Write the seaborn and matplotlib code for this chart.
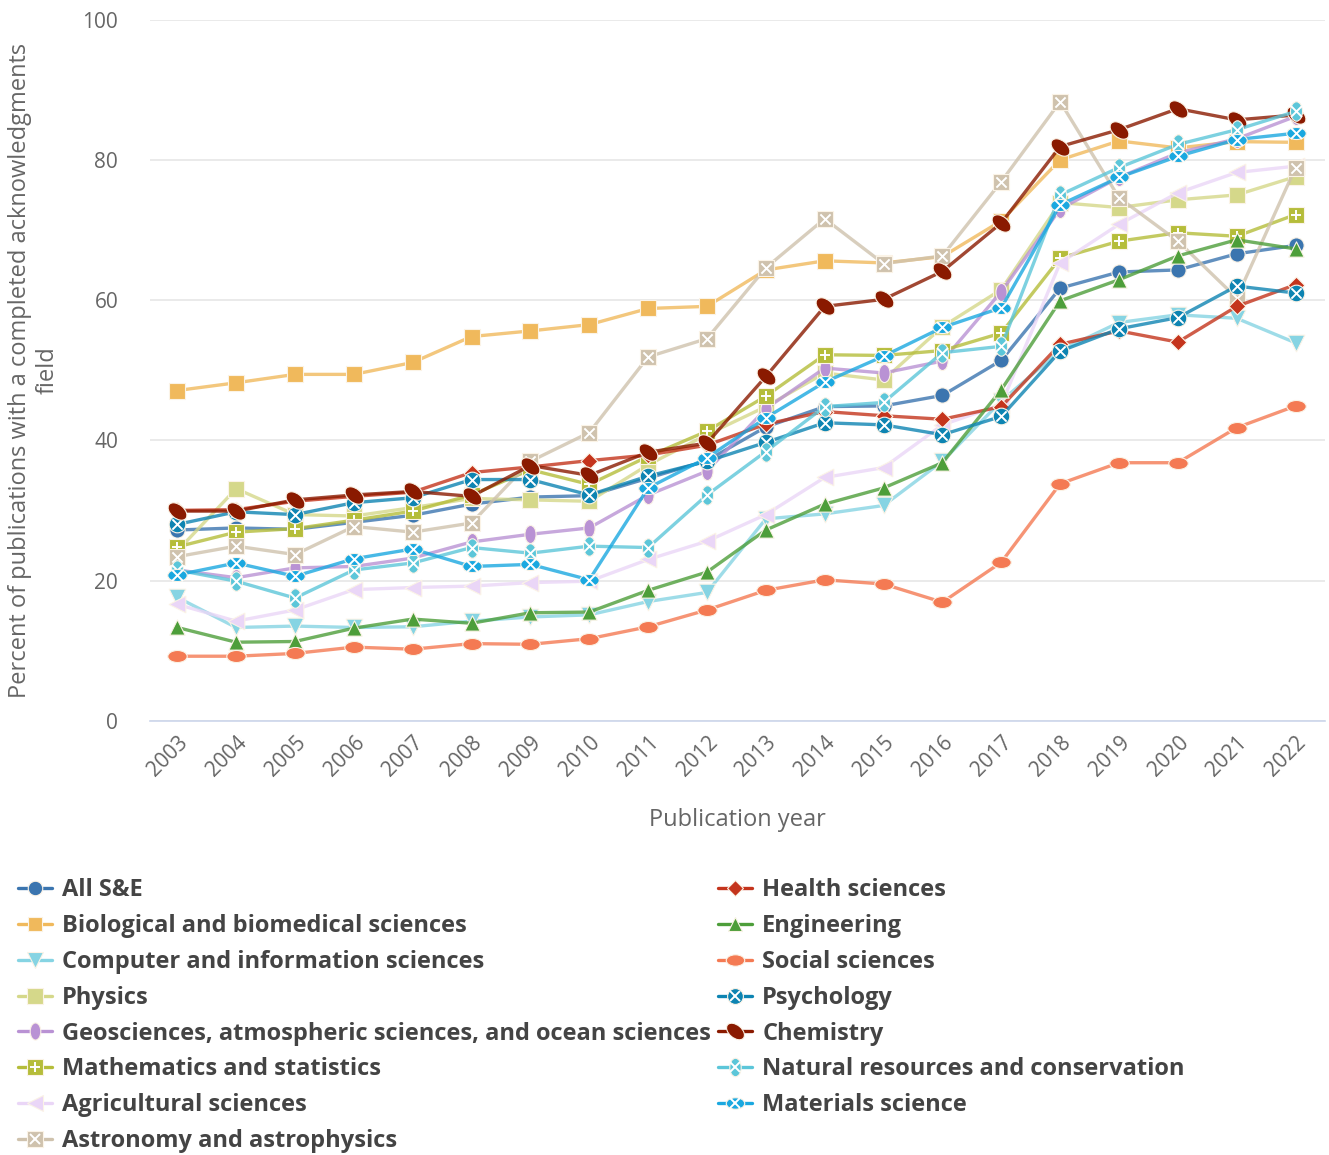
import numpy as np
import pandas as pd
import matplotlib
matplotlib.use("Agg")
import matplotlib.pyplot as plt
from matplotlib.path import Path
from matplotlib.lines import Line2D
import seaborn as sns

# data (percent of publications)
years = list(range(2003, 2023))

all_se = [27.2, 27.5, 27.3, 28.3, 29.3, 30.9, 31.9, 32.1, 34.6, 37.1,
          41.9, 44.8, 44.9, 46.4, 51.4, 61.7, 64.0, 64.3, 66.6, 67.8]
biological = [47.1, 48.2, 49.4, 49.4, 51.1, 54.8, 55.6, 56.5, 58.8, 59.1,
              64.3, 65.6, 65.3, 66.2, 71.3, 80.0, 82.7, 81.7, 82.6, 82.5]
computer = [17.6, 13.3, 13.5, 13.3, 13.4, 14.2, 14.8, 15.1, 17.0, 18.3,
            28.8, 29.5, 30.7, 37.0, 45.6, 52.8, 56.8, 57.9, 57.4, 53.9]
physics = [24.2, 33.1, 29.4, 29.2, 30.4, 31.7, 31.5, 31.3, 36.5, 40.8,
           44.8, 49.6, 48.6, 56.2, 61.5, 73.9, 73.2, 74.3, 75.0, 77.6]
geosciences = [21.5, 20.4, 21.8, 22.0, 23.2, 25.5, 26.6, 27.5, 32.2, 35.6,
               44.5, 50.3, 49.6, 51.3, 61.2, 73.0, 77.5, 81.0, 83.0, 86.2]
math_stats = [24.8, 26.9, 27.4, 28.6, 29.9, 32.2, 35.8, 33.7, 37.7, 41.3,
              46.3, 52.2, 52.1, 52.8, 55.3, 66.0, 68.4, 69.6, 69.1, 72.2]
agricultural = [16.6, 14.2, 15.8, 18.7, 19.0, 19.2, 19.7, 19.9, 23.0, 25.6,
                29.4, 34.7, 36.1, 42.2, 45.1, 65.3, 70.8, 75.3, 78.2, 79.1]
astronomy = [23.4, 24.9, 23.7, 27.7, 26.9, 28.2, 37.0, 41.1, 51.9, 54.5,
             64.6, 71.6, 65.2, 66.3, 76.9, 88.3, 74.6, 68.4, 60.3, 78.9]
health = [30.0, 30.1, 31.3, 32.0, 32.6, 35.4, 36.2, 37.1, 37.9, 39.3,
          42.3, 44.1, 43.5, 43.0, 44.8, 53.7, 55.6, 54.0, 59.1, 62.2]
engineering = [13.3, 11.2, 11.3, 13.2, 14.5, 13.9, 15.4, 15.5, 18.6, 21.2,
               27.2, 30.9, 33.2, 36.8, 47.2, 59.9, 62.9, 66.3, 68.6, 67.3]
social = [9.2, 9.2, 9.6, 10.5, 10.2, 11.0, 10.9, 11.7, 13.4, 15.8,
          18.6, 20.1, 19.5, 16.9, 22.6, 33.8, 36.8, 36.8, 41.8, 44.9]
psychology = [28.0, 29.8, 29.4, 31.1, 31.8, 34.4, 34.4, 32.2, 34.9, 37.0,
              39.7, 42.5, 42.2, 40.8, 43.4, 52.7, 55.9, 57.5, 62.0, 61.0]
chemistry = [29.9, 29.9, 31.5, 32.2, 32.7, 32.0, 36.4, 35.0, 38.3, 39.6,
             49.1, 59.1, 60.1, 64.1, 71.0, 81.9, 84.3, 87.3, 85.7, 86.4]
natural_res = [21.5, 19.9, 17.5, 21.5, 22.5, 24.7, 23.9, 24.9, 24.7, 32.2,
               38.4, 44.8, 45.4, 52.5, 53.4, 75.0, 78.9, 82.2, 84.3, 86.9]
materials = [20.8, 22.5, 20.6, 23.1, 24.5, 22.0, 22.3, 20.1, 33.2, 37.5,
             43.2, 48.3, 52.0, 56.1, 58.9, 73.6, 77.5, 80.5, 82.9, 83.8]

fields = ["All S&E", "Biological and biomedical sciences",
          "Computer and information sciences", "Physics",
          "Geosciences, atmospheric sciences, and ocean sciences",
          "Mathematics and statistics", "Agricultural sciences",
          "Astronomy and astrophysics", "Health sciences", "Engineering",
          "Social sciences", "Psychology", "Chemistry",
          "Natural resources and conservation", "Materials science"]
series = [all_se, biological, computer, physics, geosciences, math_stats,
          agricultural, astronomy, health, engineering, social, psychology,
          chemistry, natural_res, materials]

colors = ["#3b75af", "#f0b95c", "#86d4e3", "#d5d88a", "#b992d4", "#b5bd3a",
          "#ead6f7", "#cfc2ad", "#c4341c", "#4d9e3a", "#f47a53", "#0d84b2",
          "#8a1a00", "#5cc6d9", "#1aa8e0"]


def ellipse(sx, sy, angle=0):
    c = Path.unit_circle()
    v = c.vertices * [sx, sy]
    a = np.deg2rad(angle)
    rot = np.array([[np.cos(a), -np.sin(a)], [np.sin(a), np.cos(a)]])
    return Path(v @ rot.T, c.codes)


tall = ellipse(0.62, 1.0)
wide = ellipse(1.0, 0.62)
tilted = ellipse(1.0, 0.62, -40)

markers = ["o", "s", "v", "s", tall, "s", "<", "s", "D", "^", wide, "o",
           tilted, tall, wide]
sizes = [11, 11, 12, 12, 13, 12, 12, 12, 8.5, 11, 14, 12, 14, 14, 14]
overlay = {"Mathematics and statistics": "+",
           "Astronomy and astrophysics": "x",
           "Psychology": "x",
           "Natural resources and conservation": "x",
           "Materials science": "x"}

df = pd.DataFrame({
    "year": np.tile(years, len(fields)),
    "field": np.repeat(fields, len(years)),
    "pct": np.concatenate(series),
})

sns.set_theme(style="white")
plt.rcParams["font.family"] = ["Open Sans", "DejaVu Sans"]

fig = plt.figure(figsize=(13.29, 11.55), dpi=100)
ax = fig.add_axes([0.113, 0.376, 0.884, 0.607])

edge = "#fbf3e6"
handles = []
for i, f in enumerate(fields):
    sub = df[df["field"] == f]
    # line a bit lighter than the markers
    sns.lineplot(data=sub, x="year", y="pct", ax=ax, color=colors[i],
                 lw=2.4, alpha=0.8, zorder=3 + i)
    sns.scatterplot(data=sub, x="year", y="pct", ax=ax, color=colors[i],
                    marker=markers[i], s=sizes[i] ** 2, edgecolor=edge,
                    linewidth=0.8, zorder=3.3 + i, legend=False)
    h = Line2D([], [], color=colors[i], marker=markers[i],
               markersize=sizes[i] * 0.95, lw=2.4, mec=edge, mew=0.8)
    if f in overlay:
        sns.scatterplot(data=sub, x="year", y="pct", ax=ax,
                        marker=overlay[f], color="white", s=sizes[i] * 4.5,
                        linewidth=1.4, zorder=3.6 + i, legend=False)
        h2 = Line2D([], [], color="white", marker=overlay[f], lw=0,
                    markersize=sizes[i] * 0.55, mew=1.4)
        handles.append((h, h2))
    else:
        handles.append(h)

ax.set_xlim(2002.54, 2022.5)
ax.set_ylim(0, 100)
ax.set_yticks(range(0, 101, 20))
ax.set_xticks(years)
ax.set_xticklabels([str(y) for y in years], rotation=45, ha="right",
                   rotation_mode="anchor")
ax.grid(axis="y", color="#e6e6e6", lw=1.2)
ax.set_axisbelow(True)
for s in ["top", "right", "left"]:
    ax.spines[s].set_visible(False)
ax.spines["bottom"].set_color("#ccd6eb")
ax.spines["bottom"].set_linewidth(1.2)
ax.tick_params(axis="both", colors="#666666", labelsize=15, length=0)
ax.tick_params(axis="y", pad=23)
ax.tick_params(axis="x", pad=8)

ax.set_xlabel("Publication year", fontsize=17, color="#666666", labelpad=20)
ax.set_ylabel("Percent of publications with a completed acknowledgments\nfield",
              fontsize=17, color="#666666")
ax.yaxis.set_label_coords(-0.077, 0.5)

fig.legend(handles, fields, loc="upper left", bbox_to_anchor=(0.0135, 0.2395),
           ncol=2, frameon=False, prop={"size": 17, "weight": "bold"},
           labelcolor="#444444", handlelength=1.45, handletextpad=0.42,
           columnspacing=0.3, labelspacing=0.5, borderpad=0,
           borderaxespad=0)

fig.savefig("out.png", dpi=100)
